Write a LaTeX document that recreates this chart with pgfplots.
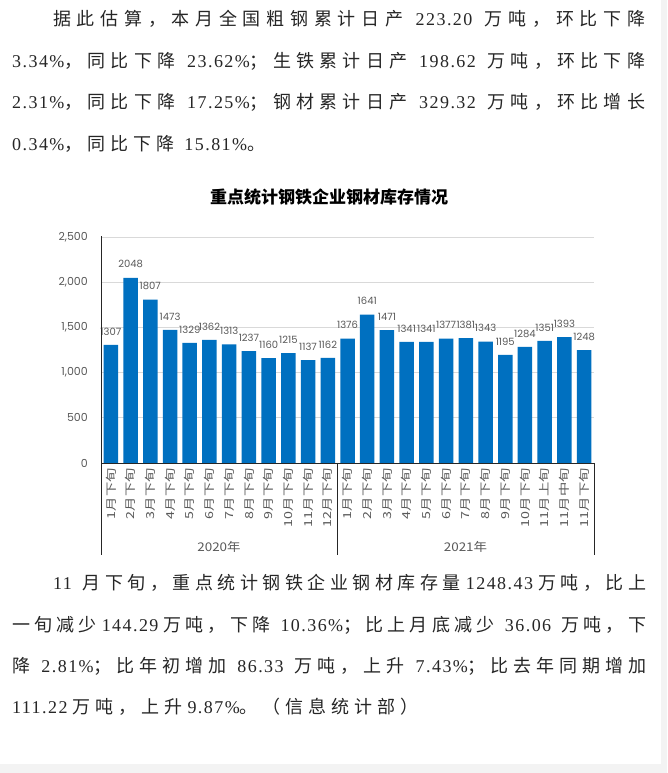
\documentclass[border=0pt]{standalone}
\usepackage{pgfplots}
\pgfplotsset{compat=1.18}
\usepackage{fontspec}
\setmainfont{Liberation Serif}[LetterSpace=8]
\newfontfamily\zhfont{Noto Sans CJK SC}
\newfontfamily\zhchart{Noto Sans CJK SC}
\newfontfamily\numfont{Poppins}
\definecolor{barblue}{RGB}{0,112,192}
\definecolor{lblgray}{RGB}{89,89,89}
\definecolor{gridgray}{RGB}{217,217,217}
\definecolor{pagegray}{RGB}{243,243,243}

% CJK characters in class 1, with stretchable glue between them in body text
\makeatletter
\count@="4E00
\loop \XeTeXcharclass\count@=1 \advance\count@ by 1 \ifnum\count@<"A000 \repeat
\makeatother
\XeTeXcharclass"3002=1 \XeTeXcharclass"FF0C=1 \XeTeXcharclass"FF1B=1
\XeTeXcharclass"FF08=1 \XeTeXcharclass"FF09=1
\XeTeXinterchartoks 1 1 = {\hskip 3.4pt plus 2pt\relax}
\newcommand\zh[1]{{\zhfont\XeTeXinterchartokenstate=1 #1}}
\newcommand\gap{\hskip 9pt plus 3pt\relax}
\newcommand\sgap{\hskip 4pt plus 2pt\relax}

% justified and natural body lines
\newcommand\jline[4]{\node[anchor=base west,inner sep=0pt] at (#1,#2) {\makebox[#3pt][s]{#4}};}
\newcommand\nline[3]{\node[anchor=base west,inner sep=0pt] at (#1,#2) {\XeTeXinterchartoks 1 1 = {\hskip 5pt\relax}#3};}

\begin{document}
\begin{tikzpicture}[x=1pt,y=1pt]
\fill[white] (0,0) rectangle (667,773);
\useasboundingbox (0,0) rectangle (667,773);
\fill[pagegray] (661,0) rectangle (667,773);
\fill[pagegray] (0,0) rectangle (667,9);

\begin{scope}[every node/.style={font=\fontsize{18}{18}\selectfont, text=black!85}]
\jline{53}{747}{592}{\zh{据此估算，本月全国粗钢累计日产}\gap 223.20\gap\zh{万吨，环比下降}}
\jline{12}{705}{633}{3.34\%\zh{，同比下降}\gap 23.62\%\zh{；生铁累计日产}\gap 198.62\gap\zh{万吨，环比下降}}
\jline{12}{664}{633}{2.31\%\zh{，同比下降}\gap 17.25\%\zh{；钢材累计日产}\gap 329.32\gap\zh{万吨，环比增长}}
\nline{12}{622}{0.34\%\zh{，同比下降}\hskip 10pt 15.81\%\zh{。}}

\jline{53}{183}{593}{11\gap\zh{月下旬，重点统计钢铁企业钢材库存量}\sgap 1248.43\sgap\zh{万吨，比上}}
\jline{12}{141}{634}{\zh{一旬减少}\sgap 144.29\sgap\zh{万吨，下降}\gap 10.36\%\zh{；比上月底减少}\gap 36.06\gap\zh{万吨，下}}
\jline{12}{100}{634}{\zh{降}\gap 2.81\%\zh{；比年初增加}\gap 86.33\gap\zh{万吨，上升}\gap 7.43\%\zh{；比去年同期增加}}
\nline{12}{59}{111.22\hskip 5pt\zh{万吨，上升}\hskip 5pt 9.87\%\zh{。（信息统计部）}}
\end{scope}

\node[font=\zhchart\bfseries\fontsize{17}{17}\selectfont] at (329,576) {重点统计钢铁企业钢材库存情况};

\begin{axis}[
    at={(101pt,310pt)}, anchor=south west,
    width=493pt, height=226pt, scale only axis,
    xmin=-0.5, xmax=24.5, ymin=0, ymax=2500,
    ybar, bar width=14.5pt,
    axis line style={draw=none},
    major tick length=0pt,
    ymajorgrids, grid style={gridgray, line width=0.9pt},
    ytick={0,500,1000,1500,2000,2500},
    yticklabel={\pgfmathprintnumber[assume math mode=true,1000 sep={,}]{\tick}},
    yticklabel style={font=\numfont\fontsize{11}{11}\selectfont, text=lblgray, anchor=east, inner sep=0pt},
    yticklabel shift=13pt,
    xtick={0,...,24},
    xticklabels={1月下旬,2月下旬,3月下旬,4月下旬,5月下旬,6月下旬,7月下旬,8月下旬,9月下旬,10月下旬,11月下旬,12月下旬,
                 1月下旬,2月下旬,3月下旬,4月下旬,5月下旬,6月下旬,7月下旬,8月下旬,9月下旬,10月下旬,11月上旬,11月中旬,11月下旬},
    xticklabel style={rotate=90, anchor=east, font=\zhchart\fontsize{11}{11}\selectfont, text=lblgray, xscale=1.3, inner sep=0pt},
    xticklabel shift=5pt,
    nodes near coords={\pgfmathprintnumber[assume math mode=true,1000 sep={}]{\pgfplotspointmeta}},
    every node near coord/.append style={font=\numfont\fontsize{10}{10}\selectfont, text=lblgray, anchor=south, inner sep=0pt, yshift=9.5pt},
]
\addplot[fill=barblue, draw=none] coordinates {
    (0,1307)(1,2048)(2,1807)(3,1473)(4,1329)(5,1362)(6,1313)(7,1237)(8,1160)(9,1215)(10,1137)(11,1162)
    (12,1376)(13,1641)(14,1471)(15,1341)(16,1341)(17,1377)(18,1381)(19,1343)(20,1195)(21,1284)(22,1351)(23,1393)(24,1248)
};
\end{axis}

\draw[black!85, line width=0.8pt] (101,536.5) -- (101,218);
\draw[black!85, line width=0.8pt] (101,310) -- (594,310);
\draw[black!85, line width=0.8pt] (337.5,310) -- (337.5,218);
\draw[black!85, line width=0.8pt] (594,310) -- (594,218);

\node[font=\zhchart\fontsize{12}{12}\selectfont, text=lblgray, xscale=1.12] at (219,226) {2020年};
\node[font=\zhchart\fontsize{12}{12}\selectfont, text=lblgray, xscale=1.12] at (465.5,226) {2021年};
\end{tikzpicture}
\end{document}
